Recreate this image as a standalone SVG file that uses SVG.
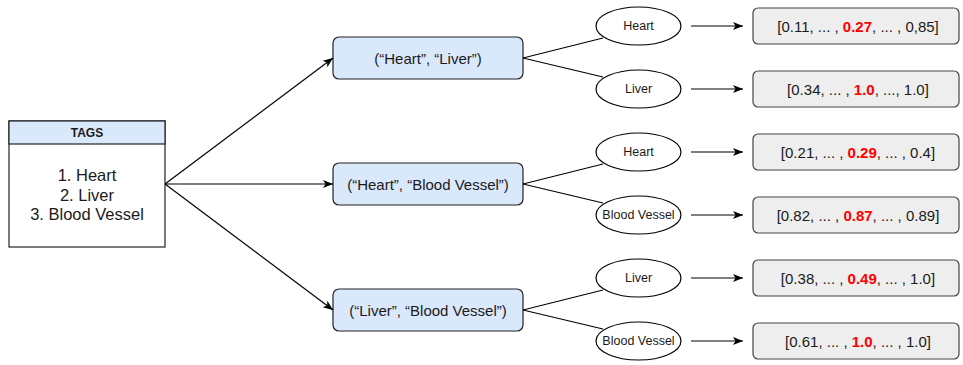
<svg xmlns="http://www.w3.org/2000/svg" width="963" height="365" viewBox="0 0 963 365">
  <style>
    text { font-family: "Liberation Sans", Arial, sans-serif; fill: #1a1a1a; }
    .edge { stroke: #000; stroke-width: 1.2; fill: none; }
    .arrow { marker-end: url(#head); }
    .pair rect { fill: #dae8fc; stroke: #222; stroke-width: 1.2; }
    .pair text { font-size: 15px; text-anchor: middle; dominant-baseline: central; }
    .tag ellipse { fill: #fff; stroke: #000; stroke-width: 1.2; }
    .tag text { font-size: 12.5px; text-anchor: middle; dominant-baseline: central; }
    .vec rect { fill: #eeeeee; stroke: #444; stroke-width: 1.2; }
    .vec text { font-size: 15px; text-anchor: middle; dominant-baseline: central; }
    .hi { fill: #ff0000; font-weight: bold; }
  </style>
  <defs>
    <marker id="head" viewBox="0 0 10 10" refX="10" refY="5" markerWidth="10" markerHeight="10" markerUnits="userSpaceOnUse" orient="auto">
      <path d="M0,1 L10,5 L0,9 L2.5,5 z" fill="#000"/>
    </marker>
  </defs>

  <!-- tag list -->
  <g id="tags">
    <rect x="9" y="121" width="156" height="126" fill="#fff" stroke="#222" stroke-width="1.2"/>
    <rect x="9" y="121" width="156" height="23" fill="#dae8fc" stroke="#222" stroke-width="1.2"/>
    <text x="87" y="133" font-size="12" font-weight="bold" text-anchor="middle" dominant-baseline="central">TAGS</text>
    <text x="87" y="175" font-size="16.5" text-anchor="middle" dominant-baseline="central">1. Heart</text>
    <text x="87" y="194.5" font-size="16.5" text-anchor="middle" dominant-baseline="central">2. Liver</text>
    <text x="87" y="214" font-size="16.5" text-anchor="middle" dominant-baseline="central">3. Blood Vessel</text>
  </g>

  <!-- tag pairs -->
  <g id="pair-heart-liver" class="pair">
    <rect x="333" y="37" width="190" height="42" rx="6"/>
    <text x="428" y="58">(“Heart”, “Liver”)</text>
  </g>
  <g id="pair-heart-vessel" class="pair">
    <rect x="333" y="163" width="190" height="42" rx="6"/>
    <text x="428" y="184">(“Heart”, “Blood Vessel”)</text>
  </g>
  <g id="pair-liver-vessel" class="pair">
    <rect x="333" y="289" width="190" height="42" rx="6"/>
    <text x="428" y="310">(“Liver”, “Blood Vessel”)</text>
  </g>

  <!-- single tags -->
  <g id="tag-1" class="tag"><ellipse cx="638.5" cy="26" rx="42.5" ry="19"/><text x="638.5" y="26">Heart</text></g>
  <g id="tag-2" class="tag"><ellipse cx="638.5" cy="89" rx="42.5" ry="19"/><text x="638.5" y="89">Liver</text></g>
  <g id="tag-3" class="tag"><ellipse cx="638.5" cy="152" rx="42.5" ry="19"/><text x="638.5" y="152">Heart</text></g>
  <g id="tag-4" class="tag"><ellipse cx="638.5" cy="215" rx="42.5" ry="19"/><text x="638.5" y="215">Blood Vessel</text></g>
  <g id="tag-5" class="tag"><ellipse cx="638.5" cy="278" rx="42.5" ry="19"/><text x="638.5" y="278">Liver</text></g>
  <g id="tag-6" class="tag"><ellipse cx="638.5" cy="341" rx="42.5" ry="19"/><text x="638.5" y="341">Blood Vessel</text></g>

  <!-- embedding vectors -->
  <g id="vec-1" class="vec"><rect x="753" y="8" width="206" height="36" rx="5"/>
    <text x="858" y="26">[0.11, ... , <tspan class="hi">0.27</tspan>, ... , 0,85]</text></g>
  <g id="vec-2" class="vec"><rect x="753" y="71" width="206" height="36" rx="5"/>
    <text x="858" y="89">[0.34, ... , <tspan class="hi">1.0</tspan>, ..., 1.0]</text></g>
  <g id="vec-3" class="vec"><rect x="753" y="134" width="206" height="36" rx="5"/>
    <text x="858" y="152">[0.21, ... , <tspan class="hi">0.29</tspan>, ... , 0.4]</text></g>
  <g id="vec-4" class="vec"><rect x="753" y="197" width="206" height="36" rx="5"/>
    <text x="858" y="215">[0.82, ... , <tspan class="hi">0.87</tspan>, ... , 0.89]</text></g>
  <g id="vec-5" class="vec"><rect x="753" y="260" width="206" height="36" rx="5"/>
    <text x="858" y="278">[0.38, ... , <tspan class="hi">0.49</tspan>, ... , 1.0]</text></g>
  <g id="vec-6" class="vec"><rect x="753" y="323" width="206" height="36" rx="5"/>
    <text x="858" y="341">[0.61, ... , <tspan class="hi">1.0</tspan>, ... , 1.0]</text></g>

  <!-- connectors -->
  <g id="connectors">
    <line class="edge arrow" x1="165" y1="184" x2="333" y2="58"/>
    <line class="edge arrow" x1="165" y1="184" x2="333" y2="184"/>
    <line class="edge arrow" x1="165" y1="184" x2="333" y2="310"/>

    <line class="edge" x1="523" y1="58" x2="603" y2="38"/>
    <line class="edge" x1="523" y1="58" x2="603" y2="77"/>
    <line class="edge" x1="523" y1="184" x2="603" y2="164"/>
    <line class="edge" x1="523" y1="184" x2="603" y2="203"/>
    <line class="edge" x1="523" y1="310" x2="603" y2="290"/>
    <line class="edge" x1="523" y1="310" x2="603" y2="329"/>

    <line class="edge arrow" x1="691" y1="26" x2="743" y2="26"/>
    <line class="edge arrow" x1="691" y1="89" x2="743" y2="89"/>
    <line class="edge arrow" x1="691" y1="152" x2="743" y2="152"/>
    <line class="edge arrow" x1="691" y1="215" x2="743" y2="215"/>
    <line class="edge arrow" x1="691" y1="278" x2="743" y2="278"/>
    <line class="edge arrow" x1="691" y1="341" x2="743" y2="341"/>
  </g>
</svg>
